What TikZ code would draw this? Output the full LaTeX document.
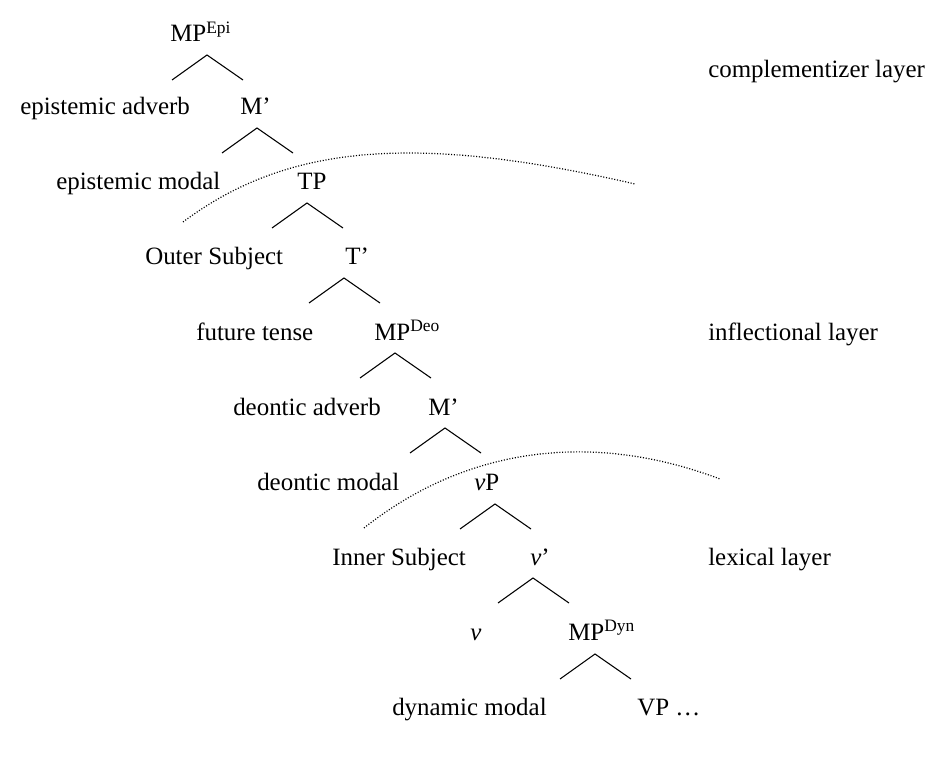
\documentclass[tikz,border=0pt]{standalone}
\usepackage{fontspec}
\setmainfont{Liberation Serif}
\usepackage{tikz}
\usetikzlibrary{positioning,calc}

% one V-shaped branch under a label: apex, left end, right end
\newcommand{\branchvee}[3]{%
  \coordinate (#1) at (#2,#3);
  \coordinate (#1-l) at ($(#1)+(-35,25)$);
  \coordinate (#1-r) at ($(#1)+(36,25)$);
  \draw[branch] (#1-l) -- (#1) -- (#1-r);}

\begin{document}
\begin{tikzpicture}[x=0.75pt,y=-0.75pt,
  lab/.style={anchor=base west, inner sep=0pt, font=\fontsize{18.7}{22}\selectfont},
  branch/.style={line width=0.8pt},
  layerline/.style={line width=0.9pt, dash pattern=on 0.8pt off 1.3pt}]
  \useasboundingbox (0,0) rectangle (948,762);

  % Tree labels
  \node[lab] (mpepi) at (170,42) {MP\textsuperscript{Epi}};
  \node[lab] (epiadv) at (20,115) {epistemic adverb};
  \node[lab] (mbarepi) at (240,115) {M'};
  \node[lab] (epimod) at (56,190) {epistemic modal};
  \node[lab] (tp) at (297,190) {TP};
  \node[lab] (outsubj) at (145,265) {Outer Subject};
  \node[lab] (tbar) at (345,265) {T'};
  \node[lab] (future) at (196,340) {future tense};
  \node[lab] (mpdeo) at (374,340) {MP\textsuperscript{Deo}};
  \node[lab] (deoadv) at (233,415) {deontic adverb};
  \node[lab] (mbardeo) at (428,415) {M'};
  \node[lab] (deomod) at (257,490) {deontic modal};
  \node[lab] (vp) at (474,490) {\textit{v}P};
  \node[lab] (innsubj) at (332,565) {Inner Subject};
  \node[lab] (vbar) at (530,565) {\textit{v}'};
  \node[lab] (vhead) at (470,640) {\textit{v}};
  \node[lab] (mpdyn) at (568,640) {MP\textsuperscript{Dyn}};
  \node[lab] (dynmod) at (392,715) {dynamic modal};
  \node[lab] (vpdots) at (637,715) {VP \ldots};

  % Layer names
  \node[lab] (complayer) at (708,78) {complementizer layer};
  \node[lab] (inflayer) at (708,340) {inflectional layer};
  \node[lab] (lexlayer) at (708,565) {lexical layer};

  % Branches
  \branchvee{bepi}{207}{55}
  \branchvee{bmepi}{257}{128}
  \branchvee{btp}{307}{203}
  \branchvee{btbar}{344}{278}
  \branchvee{bdeo}{395}{353}
  \branchvee{bmdeo}{445}{428}
  \branchvee{bvp}{495}{504}
  \branchvee{bvbar}{533}{578}
  \branchvee{bdyn}{595}{654}

  % Layer boundaries
  \coordinate (upper-s) at (183,222);
  \coordinate (upper-e) at (635,184);
  \draw[layerline] (upper-s) .. controls (285,146) and (410,132) .. (upper-e);
  \coordinate (lower-s) at (364,528);
  \coordinate (lower-e) at (720,479);
  \draw[layerline] (lower-s) .. controls (465,448) and (590,430) .. (lower-e);
\end{tikzpicture}
\end{document}
